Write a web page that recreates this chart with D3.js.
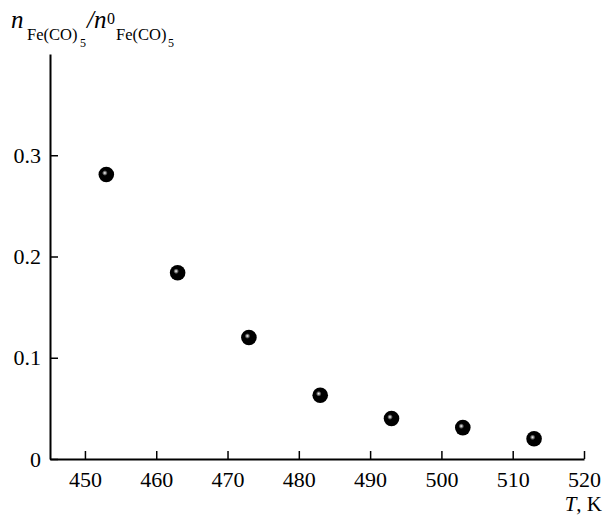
<!DOCTYPE html>
<meta charset="utf-8">
<style>
body { margin: 0; background: #fff; }
svg { font-family: "Liberation Serif", "Times New Roman", serif; }
.axis .domain { stroke: #000; stroke-width: 2px; }
.axis line { stroke: #000; stroke-width: 1.5px; }
.axis text { font-size: 22px; fill: #000; font-family: "Liberation Serif", serif; }
</style>
<body>
<script src="https://cdn.jsdelivr.net/npm/d3@7"></script>
<script>
var temps = [453, 463, 473, 483, 493, 503, 513]
var ratios = [0.281, 0.184, 0.120, 0.063, 0.040, 0.031, 0.020]
var xTicks = [450, 460, 470, 480, 490, 500, 510, 520]
var yTicks = [0, 0.1, 0.2, 0.3]

var width = 605, height = 515

var svg = d3.select('body').append('svg')
    .attr('width', width)
    .attr('height', height)

var x = d3.scaleLinear()
    .domain([445.1, 520])
    .range([50, 584])

var y = d3.scaleLinear()
    .domain([0, 0.4])
    .range([459, 54])

var xAxis = d3.axisBottom(x)
    .tickValues(xTicks)
    .tickSizeInner(-8)
    .tickSizeOuter(0)
    .tickPadding(12)

var yAxis = d3.axisLeft(y)
    .tickValues(yTicks)
    .tickSizeInner(-8)
    .tickSizeOuter(0)
    .tickPadding(9)
    .tickFormat(function (d) { return d === 0 ? '0' : d3.format('.1f')(d) })

svg.append('g')
    .attr('class', 'x axis')
    .attr('transform', 'translate(0,' + y(0) + ')')
    .call(xAxis)

svg.append('g')
    .attr('class', 'y axis')
    .attr('transform', 'translate(' + x(445.1) + ',0)')
    .call(yAxis)

// shaded ball markers
var grad = svg.append('defs').append('radialGradient')
    .attr('id', 'ball')
    .attr('cx', '0.42').attr('cy', '0.42').attr('r', '0.6')
    .attr('fx', '0.4').attr('fy', '0.4')
grad.append('stop').attr('offset', '0').attr('stop-color', '#fff')
grad.append('stop').attr('offset', '0.12').attr('stop-color', '#999')
grad.append('stop').attr('offset', '0.3').attr('stop-color', '#000')
grad.append('stop').attr('offset', '1').attr('stop-color', '#000')

svg.append('g')
    .selectAll('circle')
    .data(temps)
    .enter().append('circle')
    .attr('cx', function (d) { return x(d) })
    .attr('cy', function (d, i) { return y(ratios[i]) })
    .attr('r', 7.8)
    .attr('fill', 'url(#ball)')

// y axis title: n_Fe(CO)5 / n^0_Fe(CO)5
var ylab = svg.append('text')
    .style('font-size', '25px')
ylab.append('tspan').attr('x', 11).attr('y', 28).style('font-style', 'italic').text('n')
ylab.append('tspan').attr('x', 27).attr('y', 40).style('font-size', '16.5px').text('Fe(CO)')
ylab.append('tspan').attr('x', 80).attr('y', 47).style('font-size', '12px').text('5')
ylab.append('tspan').attr('x', 87).attr('y', 28).style('font-style', 'italic').text('/n')
ylab.append('tspan').attr('x', 107).attr('y', 24).style('font-size', '16px').text('0')
ylab.append('tspan').attr('x', 116).attr('y', 40).style('font-size', '16.5px').text('Fe(CO)')
ylab.append('tspan').attr('x', 168).attr('y', 47).style('font-size', '12px').text('5')

// x axis title
var xlab = svg.append('text')
    .attr('x', 602)
    .attr('y', 511)
    .attr('text-anchor', 'end')
    .style('font-size', '21px')
xlab.append('tspan').style('font-style', 'italic').text('T')
xlab.append('tspan').text(', K')
</script>
</body>
